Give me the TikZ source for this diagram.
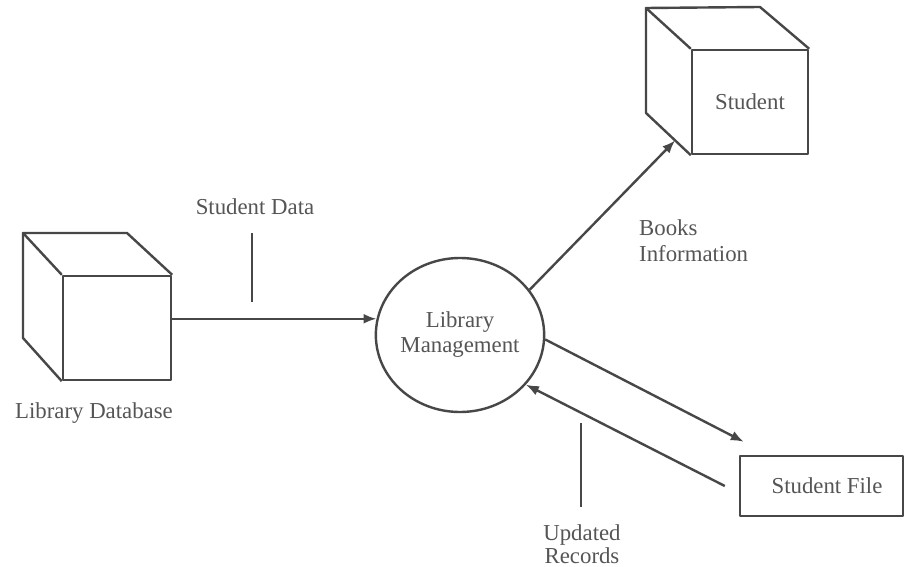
\documentclass[tikz,border=0pt]{standalone}
\usepackage{fontspec}
\setmainfont{Liberation Serif}
\usetikzlibrary{arrows.meta,shapes.geometric,calc}
\definecolor{ink}{HTML}{474747}
\definecolor{txt}{HTML}{555555}
\begin{document}
\begin{tikzpicture}[x=1pt,y=-1pt,
  line/.style={draw=ink,line width=2.4pt,line join=round},
  flow/.style={line,-{Latex[length=13pt,width=10pt]}},
  lbl/.style={text=txt,font=\fontsize{22.8}{25}\selectfont,align=center,inner sep=0pt},
  face/.style={line,rectangle,inner sep=0pt,lbl},
]
\useasboundingbox[fill=white] (0,0) rectangle (907,567);

% external entity: Library Database (cube)
\node[face,minimum width=108pt,minimum height=104pt] (ldb) at (117,328) {};
\coordinate (ldbTL) at (23,233);
\coordinate (ldbTR) at (127,233);
\coordinate (ldbBL) at (23,338);
\draw[line] (ldb.north west) -- (ldbTL) -- (ldbTR) -- (ldb.north east);
\draw[line] (ldbTL) -- (ldbBL) -- (ldb.south west);
\node[lbl] (ldbname) at (94,413) {Library Database};

% external entity: Student (cube)
\node[face,minimum width=116pt,minimum height=104pt] (stu) at (750,102) {Student};
\coordinate (stuTL) at (646,8);
\coordinate (stuTR) at (760,7);
\coordinate (stuBL) at (646,113);
\draw[line] (stu.north west) -- (stuTL) -- (stuTR) -- (stu.north east);
\draw[line] (stuTL) -- (stuBL) -- (stu.south west);

% process
\node[line,ellipse,minimum width=166pt,minimum height=154pt,lbl] (lm) at (460,335) {Library\\Management};

% data store
\node[face,minimum width=163pt,minimum height=60pt] (sf) at (821.5,486) {\hspace*{11pt}Student File};

% flows
\draw[flow] (ldb.east |- lm.169.6) -- (lm.169.6);
\coordinate (bookEnd) at ($(stuBL)!0.65!(stu.south west)$);
\draw[flow] (lm.33.9) -- (bookEnd);
\coordinate (fileIn) at ($(sf.north west)+(5,-13)$);
\draw[flow] (lm.-3.4) -- (fileIn);
\coordinate (fileOut) at ($(sf.west)+(-14,0)$);
\draw[flow] (fileOut) -- (lm.-37.7);

% flow labels with their pointer ticks
\node[lbl] (sd) at (255,207) {Student Data};
\coordinate (sdTop) at (252,233);
\coordinate (sdBot) at (252,302);
\draw[line] (sdTop) -- (sdBot);

\node[lbl,anchor=west,align=left,font=\fontsize{22.8}{26}\selectfont] (bi) at (639,241) {Books\\Information};

\node[lbl,font=\fontsize{22.8}{23}\selectfont] (ur) at (582,544) {Updated\\Records};
\coordinate (urTop) at (581,423);
\coordinate (urBot) at (581,507);
\draw[line] (urTop) -- (urBot);
\end{tikzpicture}
\end{document}
